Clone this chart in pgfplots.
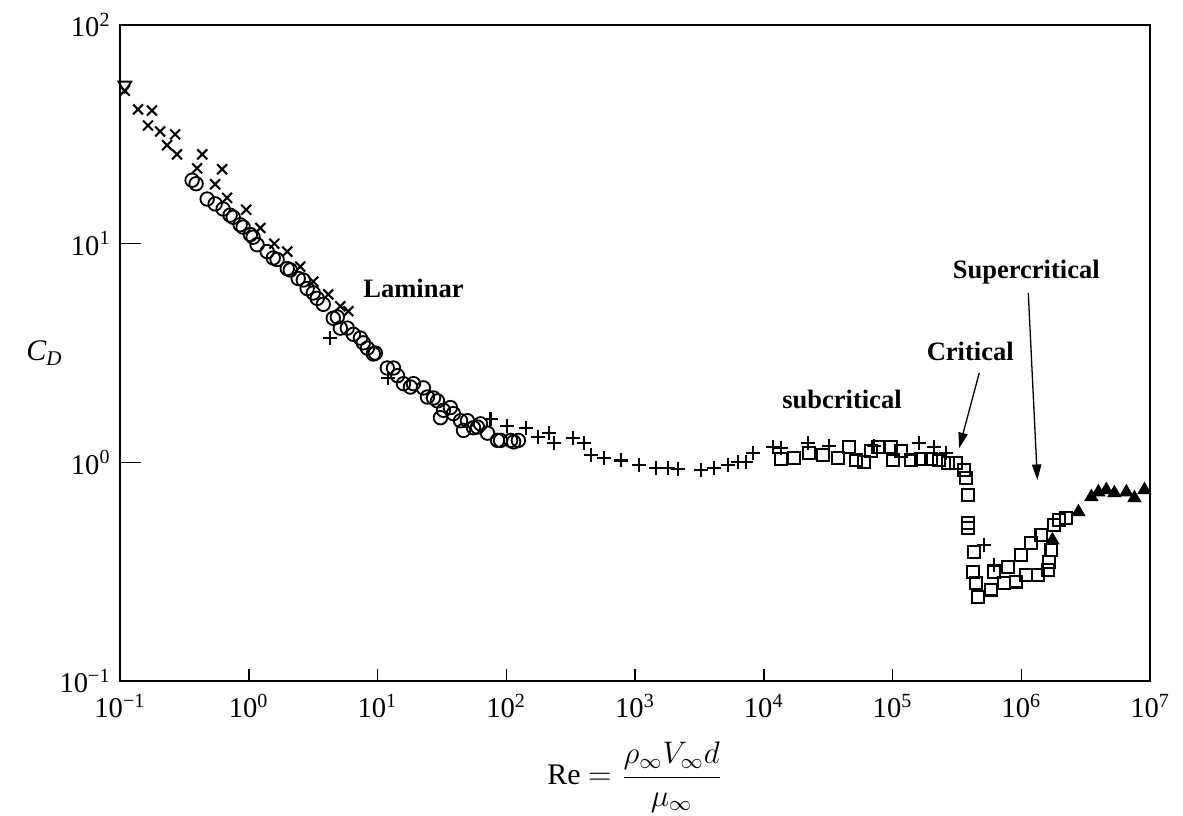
\documentclass[border=0pt]{standalone}
\usepackage{fontspec}
\setmainfont{Liberation Serif}
\usepackage{pgfplots}
\pgfplotsset{compat=1.18}
\usetikzlibrary{arrows.meta}
% exponent-only tick labels in the text font
\newcommand\logtick{\pgfmathtruncatemacro\e{round(\tick)}10\textsuperscript{\ifnum\e<0 −\number-\e\else\e\fi}}
\begin{document}
\begin{tikzpicture}
\useasboundingbox (-46.15pt,-51.9pt) rectangle (408.8pt,261.9pt);
\begin{axis}[
  name=ax,
  scale only axis, width=396.2pt, height=252.3pt,
  xmode=log, ymode=log, log basis x=10, log basis y=10,
  xmin=0.1, xmax=1e7, ymin=0.1, ymax=100,
  axis line style={line width=0.9pt},
  tick pos=left, tick align=inside,
  xtick={1e-1,1,10,100,1e3,1e4,1e5,1e6,1e7},
  ytick={0.1,1,10,100},
  xticklabel=\logtick, yticklabel=\logtick,
  ticklabel style={font=\fontsize{11}{13}\selectfont},
  xticklabel style={yshift=-1.5pt},
  every tick/.style={black, line width=0.6pt},
  xtick style={/pgfplots/major tick length=4.5pt, /pgfplots/minor tick length=4.5pt},
  ytick style={/pgfplots/major tick length=8pt, /pgfplots/minor tick length=5pt},
  every mark/.append style={solid},
]
% x marks
\addplot[only marks, mark=x, mark size=2.7pt, line width=0.8pt] coordinates {
(0.109,50.1) (0.138,41.1) (0.177,40.6) (0.165,34.7) (0.205,32.6) (0.268,31.6)
(0.232,28.2) (0.277,25.6) (0.435,25.6) (0.397,22.1) (0.621,21.9) (0.548,18.7)
(0.679,16.2) (0.955,14.3) (1.23,11.8) (1.58,10.0) (1.99,9.20) (2.51,7.86)
(3.17,6.71) (4.14,5.86) (5.14,5.17) (5.93,4.91)};
% open circles
\addplot[only marks, mark=o, mark size=2.6pt, line width=0.7pt] coordinates {
(0.363,19.5) (0.39,18.8) (0.475,16.0) (0.548,15.2) (0.632,14.4) (0.716,13.5)
(0.757,13.2) (0.857,12.2) (0.904,11.9) (1.03,11.0) (1.08,10.7) (1.16,9.89)
(1.39,9.20) (1.55,8.60) (1.66,8.46) (1.99,7.69) (2.10,7.58) (2.42,6.93)
(2.65,6.82) (2.84,6.24) (3.17,5.95) (3.40,5.62) (3.79,5.28) (4.53,4.56)
(4.87,4.62) (5.14,4.11) (5.82,4.11) (6.49,3.85) (7.35,3.70) (7.76,3.52)
(8.34,3.33) (9.27,3.13) (9.61,3.16) (11.9,2.70) (13.3,2.70) (14.3,2.49)
(15.9,2.29) (18.0,2.21) (19.0,2.29) (22.7,2.19) (24.4,1.99) (27.2,1.97)
(29.2,1.91) (30.8,1.60) (32.5,1.73) (36.8,1.78) (38.8,1.67) (44.1,1.55)
(46.5,1.40) (49.9,1.55) (55.6,1.44) (59.7,1.45) (63.0,1.50) (71.4,1.36)
(85.5,1.26) (90.2,1.26) (108,1.26) (114,1.24) (124,1.26)};
% plus marks
\addplot[only marks, mark=+, mark size=2.7pt, line width=0.8pt] coordinates {
(4.30,3.70) (12.1,2.43) (75.4,1.58) (102,1.47) (141,1.43) (175,1.30) (213,1.36)
(233,1.23) (327,1.29) (398,1.22) (452,1.08) (570,1.05) (773,1.02) (1070,0.968)
(1450,0.939) (1790,0.939) (2140,0.929) (3240,0.920) (4080,0.939) (5250,0.968)
(6280,1.00) (7240,1.00) (8200,1.10) (11700,1.17) (13600,1.16) (22000,1.22)
(32000,1.19) (71600,1.19) (160000,1.22) (210000,1.17) (260000,1.10)
(514000,0.420) (614000,0.340)};
% open squares
\addplot[only marks, mark=square, mark size=2.3pt, line width=0.8pt] coordinates {
(13600,1.04) (17100,1.05) (22400,1.10) (28800,1.08) (37600,1.05) (45800,1.17)
(51900,1.02) (60000,1.00) (67900,1.13) (76900,1.17) (97200,1.17) (101000,1.02)
(116000,1.13) (139000,1.02) (166000,1.04) (199000,1.04) (230000,1.02)
(270000,0.989) (311000,0.989) (359000,0.920) (372000,0.845) (385000,0.708)
(385000,0.528) (385000,0.501) (430000,0.390) (422000,0.316) (445000,0.282)
(461000,0.243) (582000,0.262) (614000,0.316) (735000,0.282) (789000,0.333)
(912000,0.285) (995000,0.378) (1.09e6,0.306) (1.19e6,0.429) (1.35e6,0.306)
(1.43e6,0.466) (1.61e6,0.323) (1.64e6,0.351) (1.71e6,0.398) (1.80e6,0.518)
(1.97e6,0.545) (2.23e6,0.556)};
% filled triangles
\addplot[only marks, mark=triangle*, mark size=2.8pt] coordinates {
(1.74e6,0.441) (2.77e6,0.593) (3.49e6,0.695) (3.96e6,0.731) (4.56e6,0.748)
(5.27e6,0.724) (6.53e6,0.731) (7.54e6,0.687) (9.02e6,0.748)};
% inverted triangle
\addplot[only marks, mark=triangle, mark options={rotate=180}, mark size=2.8pt, line width=0.7pt] coordinates {(0.109,53)};

\node[font=\bfseries\fontsize{10.2}{12}\selectfont] at (axis cs:19.0,6.27) {Laminar};
\node[font=\bfseries\fontsize{10.2}{12}\selectfont] at (axis cs:40400,1.93) {subcritical};
\node[font=\bfseries\fontsize{10.2}{12}\selectfont] at (axis cs:400000,3.20) {Critical};
\node[font=\bfseries\fontsize{10.2}{12}\selectfont] at (axis cs:1.09e6,7.41) {Supercritical};
\draw[line width=0.5pt, -{Triangle[length=6pt,width=3.6pt]}] (axis cs:470000,2.56) -- (axis cs:328000,1.16);
\draw[line width=0.5pt, -{Triangle[length=6pt,width=3.6pt]}] (axis cs:1.13e6,5.95) -- (axis cs:1.33e6,0.83);
\end{axis}
\node[font=\fontsize{11.5}{13}\selectfont] at (ax.west) [xshift=-29pt] {\textit{C}\textsubscript{\textit{D}}};
\node[font=\fontsize{11.5}{13}\selectfont] at (ax.south) [yshift=-37pt] {Re $=\displaystyle\frac{\rho_\infty V_\infty d}{\mu_\infty}$};
\end{tikzpicture}
\end{document}
